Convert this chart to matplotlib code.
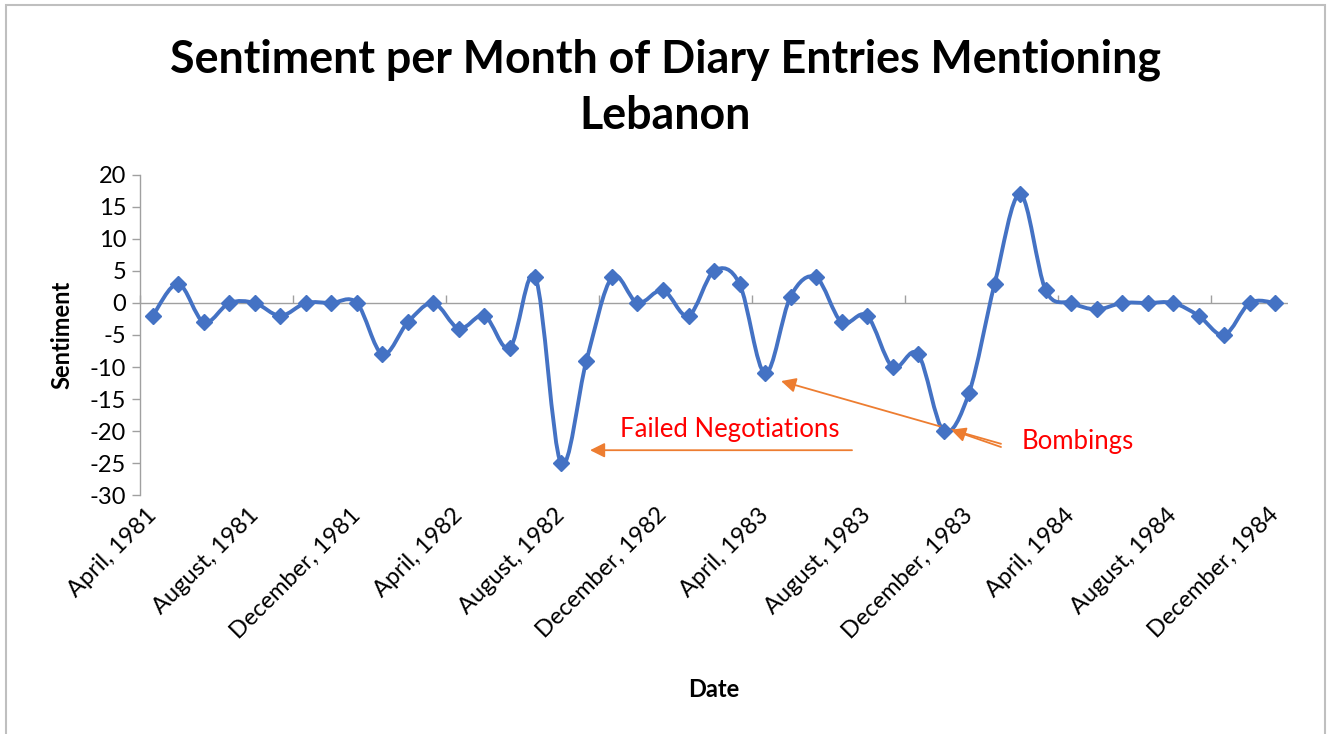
import numpy as np
import matplotlib
matplotlib.use("Agg")
import matplotlib.pyplot as plt
from matplotlib.path import Path
import matplotlib.patches as mpatches

# Data
months = [
    "April, 1981", "May, 1981", "June, 1981", "July, 1981", "August, 1981",
    "September, 1981", "October, 1981", "November, 1981", "December, 1981",
    "January, 1982", "February, 1982", "March, 1982", "April, 1982", "May, 1982",
    "June, 1982", "July, 1982", "August, 1982", "September, 1982", "October, 1982",
    "November, 1982", "December, 1982",
    "January, 1983", "February, 1983", "March, 1983", "April, 1983", "May, 1983",
    "June, 1983", "July, 1983", "August, 1983", "September, 1983", "October, 1983",
    "November, 1983", "December, 1983",
    "January, 1984", "February, 1984", "March, 1984", "April, 1984", "May, 1984",
    "June, 1984", "July, 1984", "August, 1984", "September, 1984", "October, 1984",
    "November, 1984", "December, 1984",
]
sentiment = [-2, 3, -3, 0, 0, -2, 0, 0, 0,
             -8, -3, 0, -4, -2, -7, 4, -25, -9, 4, 0, 2,
             -2, 5, 3, -11, 1, 4, -3, -2, -10, -8, -20, -14,
             3, 17, 2, 0, -1, 0, 0, 0, -2, -5, 0, 0]
yticks = [20, 15, 10, 5, 0, -5, -10, -15, -20, -25, -30]

plt.rcParams['font.family'] = ['Lato', 'DejaVu Sans']
plt.rcParams['axes.unicode_minus'] = False

BLUE = "#4472C4"
ORANGE = "#ED7D31"
GRAY = "#A0A0A0"


# smoothed line like Excel (Catmull-Rom -> cubic bezier)
def smooth_path(x, y):
    pts = np.column_stack([x, y]).astype(float)
    n = len(pts)
    verts = [pts[0]]
    codes = [Path.MOVETO]
    for i in range(n - 1):
        p0 = pts[i - 1] if i > 0 else pts[i]
        p1 = pts[i]
        p2 = pts[i + 1]
        p3 = pts[i + 2] if i + 2 < n else pts[i + 1]
        verts += [p1 + (p2 - p0) / 6, p2 - (p3 - p1) / 6, p2]
        codes += [Path.CURVE4] * 3
    return Path(verts, codes)


fig = plt.figure(figsize=(13.31, 7.34), dpi=100)
ax = fig.add_axes([0.1052, 0.3256, 0.8625, 0.436])

x = np.arange(len(sentiment))
ax.add_patch(mpatches.PathPatch(smooth_path(x, sentiment), fill=False,
                                edgecolor=BLUE, lw=2.8, capstyle='round',
                                joinstyle='round', zorder=3))
ax.plot(x, sentiment, linestyle='none', marker='D', ms=8, color=BLUE, zorder=4)

ax.set_xlim(-0.5, len(sentiment) - 0.5)
ax.set_ylim(-30, 20)

# axes styling
for s in ['top', 'right', 'bottom']:
    ax.spines[s].set_visible(False)
ax.spines['left'].set_color(GRAY)
ax.spines['left'].set_linewidth(1.0)
ax.set_yticks(yticks)
ax.tick_params(axis='y', colors=GRAY, length=6, width=1.0, labelsize=17,
               labelcolor='black', pad=4)

ax.set_xticks(x[::4])
ax.set_xticklabels(months[::4], rotation=45, ha='right', va='center',
                   rotation_mode='anchor', fontsize=17)
ax.tick_params(axis='x', length=0, pad=12)

# category axis crosses at zero
ax.axhline(0, color=GRAY, lw=1.0, zorder=1)
zero_axis = ax.secondary_xaxis((0 - (-30)) / 50)
zero_axis.set_xticks(np.arange(-0.5, len(sentiment), 6))
zero_axis.set_xticklabels([])
for s in zero_axis.spines.values():
    s.set_visible(False)
zero_axis.tick_params(axis='x', colors=GRAY, length=6, width=1.0)

ax.set_xlabel("Date", fontsize=17, fontweight='bold', labelpad=26)
ax.set_ylabel("Sentiment", fontsize=17, fontweight='bold', labelpad=12)

fig.text(0.5, 0.948, "Sentiment per Month of Diary Entries Mentioning\nLebanon",
         ha='center', va='top', fontsize=32.2, fontweight='bold',
         linespacing=1.42)

# annotations
arrow = dict(arrowstyle='-|>', color=ORANGE, lw=1.3, mutation_scale=22,
             shrinkA=0, shrinkB=0)
ax.annotate("", xy=(17.14, -23.0), xytext=(27.41, -23.0), arrowprops=arrow)
ax.text(22.63, -19.8, "Failed Negotiations", color='red', fontsize=18.5,
        ha='center', va='center')
ax.annotate("", xy=(24.63, -12.2), xytext=(33.25, -22.0), arrowprops=arrow)
ax.annotate("", xy=(31.29, -19.8), xytext=(33.25, -22.5), arrowprops=arrow)
ax.text(36.27, -21.7, "Bombings", color='red', fontsize=18.5,
        ha='center', va='center')

# chart border
fig.patches.append(mpatches.Rectangle((6 / 1331, -0.01), 1319 / 1331, 1 - 5 / 734 + 0.01,
                                      transform=fig.transFigure, fill=False,
                                      edgecolor='#BFBFBF', lw=1.5))

fig.savefig("out.png", dpi=100)
